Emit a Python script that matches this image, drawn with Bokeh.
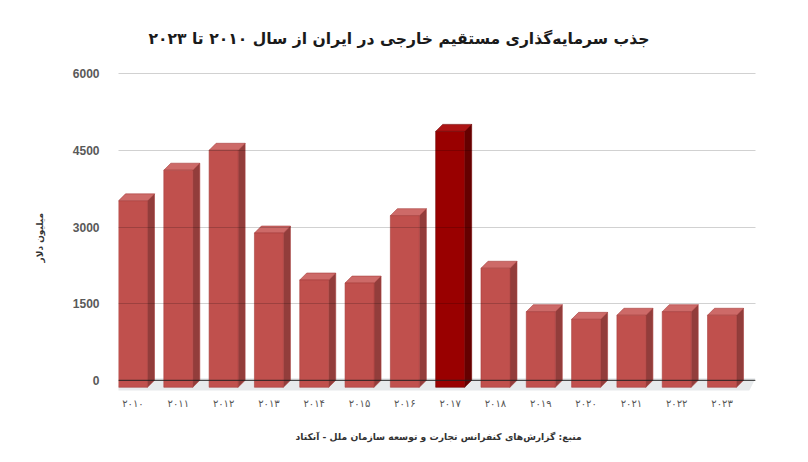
from bokeh.plotting import figure
from bokeh.models import Range1d, FixedTicker, Span, ColumnDataSource, Title
from bokeh.embed import file_html
from bokeh.resources import INLINE

# ---- data ----
years = ["2010", "2011", "2012", "2013", "2014", "2015", "2016",
         "2017", "2018", "2019", "2020", "2021", "2022", "2023"]
year_labels = ["۲۰۱۰", "۲۰۱۱", "۲۰۱۲", "۲۰۱۳", "۲۰۱۴", "۲۰۱۵", "۲۰۱۶",
               "۲۰۱۷", "۲۰۱۸", "۲۰۱۹", "۲۰۲۰", "۲۰۲۱", "۲۰۲۲", "۲۰۲۳"]
fdi = [3650, 4250, 4640, 3020, 2100, 2040, 3360,
       5010, 2330, 1480, 1330, 1410, 1480, 1410]
y_ticks = [0, 1500, 3000, 4500, 6000]
highlight_year = "2017"
title_text = "جذب سرمایه‌گذاری مستقیم خارجی در ایران از سال ۲۰۱۰ تا ۲۰۲۳"
y_label = "میلیون دلار"
source_text = "منبع: گزارش‌های کنفرانس تجارت و توسعه سازمان ملل - آنکتاد"

# ---- layout ----
W, H = 792, 458
BL, BR, BT, BB = 118, 37, 58, 68
frame_w = W - BL - BR
frame_h = H - BT - BB
HW = 0.32
slot_px = 45.31
x0 = -HW
x1 = x0 + frame_w / slot_px
y0, y1 = -200, 6300
px_x = frame_w / (x1 - x0)
px_y = frame_h / (y1 - y0)
DX = 7 / px_x
DY = 7 / px_y

p = figure(width=W, height=H, x_range=Range1d(x0, x1), y_range=Range1d(y0, y1),
           output_backend="svg", toolbar_location=None, title=None,
           min_border_left=BL, min_border_right=BR, min_border_top=BT, min_border_bottom=BB,
           outline_line_color=None, background_fill_color="white", border_fill_color="white")

# floor shading
p.patch([x0 - DX * 0.5, x1 - DX, x1, x0 + DX * 0.5],
        [-DY - 5 / px_y, -DY - 5 / px_y, 2 / px_y, 2 / px_y],
        fill_color="#e7eaec", line_color=None)

n = len(years)
front_col = ["#990000" if y == highlight_year else "#c0504d" for y in years]
top_col = ["#ad1414" if y == highlight_year else "#cd6a68" for y in years]
side_col = ["#650000" if y == highlight_year else "#923d3b" for y in years]
edge_col = ["#700000" if y == highlight_year else "#a8403e" for y in years]

xs_front, ys_front, xs_top, ys_top, xs_side, ys_side = [], [], [], [], [], []
for i, v in enumerate(fdi):
    l, r = i - HW, i + HW
    xs_front.append([l, r, r, l]); ys_front.append([-DY, -DY, v - DY, v - DY])
    xs_top.append([l, r, r + DX, l + DX]); ys_top.append([v - DY, v - DY, v, v])
    xs_side.append([r, r + DX, r + DX, r]); ys_side.append([-DY, 0, v, v - DY])

src = ColumnDataSource(dict(xf=xs_front, yf=ys_front, xt=xs_top, yt=ys_top,
                            xsd=xs_side, ysd=ys_side, fc=front_col, tc=top_col,
                            sc=side_col, ec=edge_col))
p.patches("xsd", "ysd", source=src, fill_color="sc", line_color="ec", line_width=0.6)
p.patches("xt", "yt", source=src, fill_color="tc", line_color="ec", line_width=0.6)
p.patches("xf", "yf", source=src, fill_color="fc", line_color="ec", line_width=0.6)

# baseline
p.add_layout(Span(location=0, dimension="width", line_color="#222222",
                  line_alpha=0.75, line_width=1.2, level="overlay"))

# axes
p.yaxis.ticker = FixedTicker(ticks=y_ticks)
p.yaxis.axis_line_color = None
p.yaxis.major_tick_line_color = None
p.yaxis.minor_tick_line_color = None
p.yaxis.major_label_text_font = "Liberation Sans"
p.yaxis.major_label_text_font_style = "bold"
p.yaxis.major_label_text_font_size = "12px"
p.yaxis.major_label_text_color = "#595959"
p.yaxis.major_label_standoff = 13

p.xaxis.ticker = FixedTicker(ticks=list(range(n)))
p.xaxis.major_label_overrides = {i: lbl for i, lbl in enumerate(year_labels)}
p.xaxis.axis_line_color = None
p.xaxis.major_tick_line_color = None
p.xaxis.minor_tick_line_color = None
p.xaxis.major_label_text_font = "DejaVu Sans"
p.xaxis.major_label_text_font_size = "10px"
p.xaxis.major_label_text_color = "#555555"
p.xaxis.major_label_standoff = 1

p.xgrid.visible = False
p.ygrid.ticker = FixedTicker(ticks=y_ticks)
p.ygrid.grid_line_color = "black"
p.ygrid.grid_line_alpha = 0.18
p.ygrid.level = "overlay"

# title, y label and source
p.add_layout(Title(text=title_text, align="left", offset=30,
                   text_font="DejaVu Sans", text_font_style="bold",
                   text_font_size="15.6px", text_color="#1a1a1a", standoff=21), "above")
p.add_layout(Title(text=y_label, align="left", offset=128,
                   text_font="DejaVu Sans", text_font_style="bold",
                   text_font_size="9px", text_color="#333333", standoff=50), "left")
p.add_layout(Title(text=source_text, align="left", offset=177,
                   text_font="DejaVu Sans", text_font_style="bold",
                   text_font_size="9.2px", text_color="#333333", standoff=34), "below")

open("out.html", "w").write(file_html(p, INLINE))
